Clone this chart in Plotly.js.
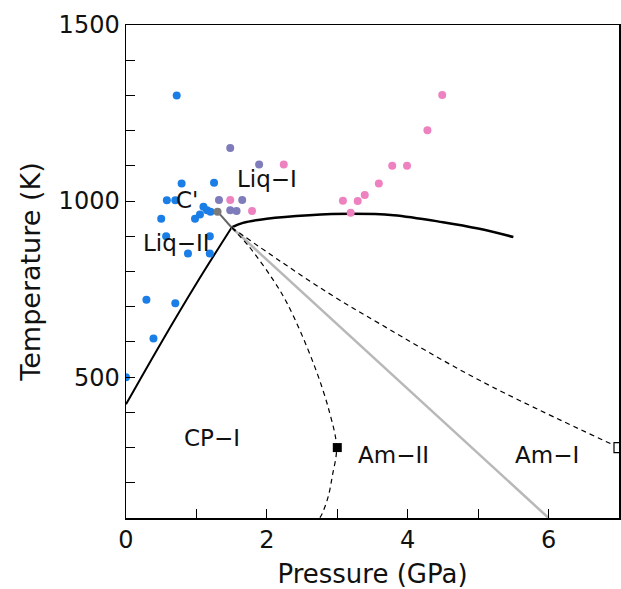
<!DOCTYPE html>
<html>
<head>
<meta charset="utf-8">
<script src="https://cdn.plot.ly/plotly-3.0.1.min.js"></script>
<style>html,body{margin:0;padding:0;background:#fff;}#chart{width:621px;height:589px;}</style>
</head>
<body>
<div id="chart"></div>
<script>
// Data points (Pressure GPa, Temperature K)
var blueP = [0, 0.29, 0.70, 0.39, 0.72, 0.79, 1.25, 0.58, 0.70, 0.50, 1.10, 1.15, 0.98, 1.20, 1.05, 0.57, 1.19, 0.88, 1.19];
var blueT = [500, 720, 710, 610, 1300, 1050, 1052, 1002, 1002, 950, 984, 974, 950, 970, 962, 900, 900, 851, 851];
var purpleP = [1.48, 1.89, 1.32, 1.65, 1.48, 1.57];
var purpleT = [1151, 1104, 1003, 1003, 974, 972];
var pinkP = [1.48, 2.24, 1.79, 3.08, 3.19, 3.29, 3.39, 3.59, 3.78, 3.99, 4.28, 4.49];
var pinkT = [1003, 1104, 972, 1001, 967, 1000, 1017, 1050, 1100, 1100, 1201, 1301];
var grayP = [1.30];
var grayT = [970];

// Phase boundaries
var meltP = [0, 0.5, 1.0, 1.5];
var meltT = [423, 598, 766, 925];
var liqP = [1.5, 1.66, 2.0, 2.6, 3.2, 3.8, 4.5, 5.0, 5.5];
var liqT = [925, 938, 950, 960, 964, 960, 940, 922, 898];
var grayLineP1 = [1.30, 1.5];
var grayLineT1 = [970, 925];
var grayLineP2 = [1.5, 6.0];
var grayLineT2 = [925, 100];
var dash1P = [1.5, 1.75, 2.09, 2.30, 2.66, 2.89, 2.99, 2.93, 2.87, 2.78, 2.75];
var dash1T = [925, 870, 776, 705, 540, 400, 300, 220, 160, 110, 100];
var dash2P = [1.5, 2.2, 2.92, 3.6, 5.02, 7.0];
var dash2T = [925, 828, 733, 652, 491, 300];
var sqBlackP = [3.0], sqBlackT = [300];
var sqWhiteP = [7.0], sqWhiteT = [300];

// Labels
var labText = ["Liq\u2212I", "C'", "Liq\u2212II", "CP\u2212I", "Am\u2212II", "Am\u2212I"];
var labP = [2.0, 0.86, 0.72, 1.22, 3.8, 5.98];
var labT = [1062, 1003, 882, 327, 280, 280];

var xTickVals = [0,1,2,3,4,5,6,7];
var xTickText = ["0","","2","","4","","6",""];
var yTickVals = [200,300,400,500,600,700,800,900,1000,1100,1200,1300,1400,1500];
var yTickText = ["","","","500","","","","","1000","","","","","1500"];

var mk = function(c){ return {size: 8, color: c, symbol: 'circle'}; };
var traces = [
  {x: meltP, y: meltT, mode: 'lines', line: {color: '#000', width: 2, shape: 'spline'}, hoverinfo: 'skip'},
  {x: liqP, y: liqT, mode: 'lines', line: {color: '#000', width: 2.5, shape: 'spline'}, hoverinfo: 'skip'},
  {x: grayLineP2, y: grayLineT2, mode: 'lines', line: {color: '#b8b8b8', width: 2.5}},
  {x: grayLineP1, y: grayLineT1, mode: 'lines', line: {color: '#666', width: 2}},
  {x: dash1P, y: dash1T, mode: 'lines', line: {color: '#000', width: 1.2, dash: '5px,4px', shape: 'spline'}},
  {x: dash2P, y: dash2T, mode: 'lines', line: {color: '#000', width: 1.2, dash: '5px,4px', shape: 'spline'}},
  {x: blueP, y: blueT, mode: 'markers', marker: mk('#1a7ee6')},
  {x: pinkP, y: pinkT, mode: 'markers', marker: mk('#ee82c0')},
  {x: purpleP, y: purpleT, mode: 'markers', marker: mk('#7e7cba')},
  {x: grayP, y: grayT, mode: 'markers', marker: mk('#7a7a7a')},
  {x: sqBlackP, y: sqBlackT, mode: 'markers', marker: {symbol: 'square', size: 9, color: '#000'}},
  {x: sqWhiteP, y: sqWhiteT, mode: 'markers', cliponaxis: false, marker: {symbol: 'square', size: 10, color: '#fff', line: {color: '#000', width: 1.2}}}
];

var annotations = labText.map(function(t, i){
  return {x: labP[i], y: labT[i], text: t, showarrow: false, xref: 'x', yref: 'y',
          font: {family: 'DejaVu Sans, sans-serif', size: 23, color: '#111'}};
});

var layout = {
  width: 621, height: 589,
  margin: {l: 126, r: 2, t: 25, b: 71, pad: 0},
  paper_bgcolor: '#fff', plot_bgcolor: '#fff',
  showlegend: false,
  font: {family: 'DejaVu Sans, sans-serif', size: 24, color: '#111'},
  xaxis: {
    range: [0, 7], showgrid: false, zeroline: false,
    showline: true, linecolor: '#000', linewidth: 1.5, mirror: true,
    ticks: 'inside', ticklen: 9, tickwidth: 1, tickcolor: '#000',
    tickmode: 'array', tickvals: xTickVals, ticktext: xTickText,
    tickfont: {size: 24},
    title: {text: 'Pressure (GPa)', font: {size: 26}, standoff: 14}
  },
  yaxis: {
    range: [100, 1500], showgrid: false, zeroline: false,
    showline: true, linecolor: '#000', linewidth: 1.5, mirror: true,
    ticks: 'inside', ticklen: 9, tickwidth: 1, tickcolor: '#000',
    tickmode: 'array', tickvals: yTickVals, ticktext: yTickText,
    tickfont: {size: 24},
    title: {text: 'Temperature (K)', font: {size: 27}, standoff: 10}
  },
  annotations: annotations
};

Plotly.newPlot('chart', traces, layout, {displayModeBar: false, staticPlot: true});
</script>
</body>
</html>
